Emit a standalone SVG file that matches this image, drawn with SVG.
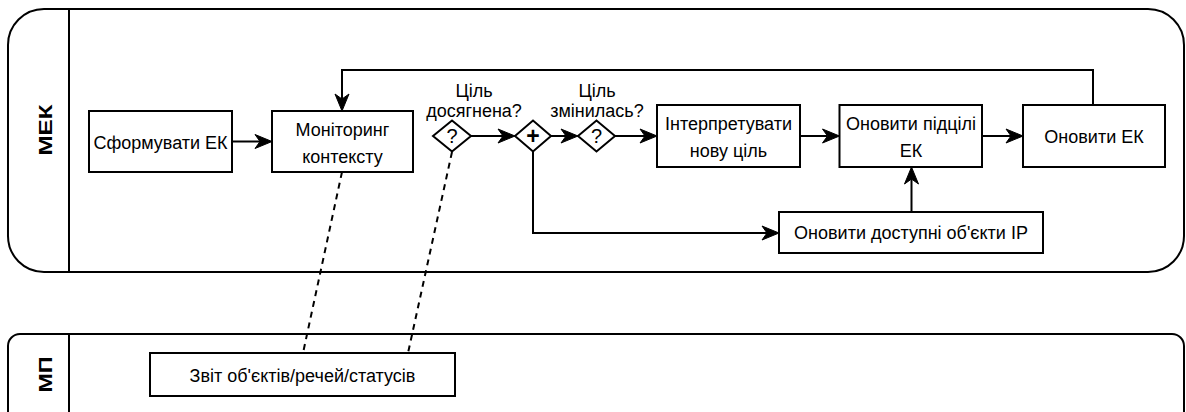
<svg xmlns="http://www.w3.org/2000/svg" width="1186" height="412" viewBox="0 0 1186 412">
  <style>
    .pool { fill: #ffffff; stroke: #000000; stroke-width: 2; }
    .lane { fill: none; stroke: #000000; stroke-width: 2; }
    .task { fill: #ffffff; stroke: #000000; stroke-width: 2; }
    .gw { fill: #ffffff; stroke: #000000; stroke-width: 2; stroke-linejoin: miter; }
    .flow { fill: none; stroke: #000000; stroke-width: 2; marker-end: url(#arrow); }
    .assoc { fill: none; stroke: #000000; stroke-width: 2; stroke-dasharray: 6 5; }
    text { font-family: "Liberation Sans", Arial, sans-serif; font-size: 18px; fill: #000000; text-anchor: middle; }
    .title { font-weight: bold; font-size: 19px; }
    .mark { font-size: 20px; }
    .plus { font-size: 23px; font-weight: bold; }
  </style>
  <defs>
    <marker id="arrow" viewBox="-6 -8 20 16" refX="0" refY="0" markerWidth="20" markerHeight="16" markerUnits="userSpaceOnUse" orient="auto">
      <path d="M12,0 L-5,-7 L0,0 L-5,7 Z" fill="#000000" stroke="#000000" stroke-width="1" stroke-linejoin="miter"/>
    </marker>
  </defs>

  <!-- pools with their lane headers -->
  <g id="pool-mek">
    <rect class="pool" x="8" y="9" width="1176" height="263" rx="36" ry="36"/>
    <line class="lane" x1="69" y1="9" x2="69" y2="272"/>
    <text class="title" transform="translate(52 130) rotate(-90)" textLength="51" lengthAdjust="spacingAndGlyphs">МЕК</text>
  </g>
  <g id="pool-mp">
    <rect class="pool" x="8" y="334" width="1176" height="100" rx="12" ry="12"/>
    <line class="lane" x1="69" y1="334" x2="69" y2="412"/>
    <text class="title" transform="translate(52 374.5) rotate(-90)" textLength="36" lengthAdjust="spacingAndGlyphs">МП</text>
  </g>

  <!-- connectors -->
  <g id="connectors">
    <path class="flow" d="M232,141.5 H260"/>
    <path class="flow" d="M471,136 H503"/>
    <path class="flow" d="M551,136 H566"/>
    <path class="flow" d="M615,136 H645"/>
    <path class="flow" d="M800,136 H827.5"/>
    <path class="flow" d="M982,136 H1011"/>
    <path class="flow" d="M533,152 V233 H767"/>
    <path class="flow" d="M911.5,212 V179"/>
    <path class="flow" d="M1093,105 V70 H342 V99"/>
    <path class="assoc" d="M342,172 L303,353"/>
    <path class="assoc" d="M452,152 L408,353"/>
  </g>

  <!-- tasks -->
  <g id="task-form">
    <rect class="task" x="89" y="111" width="143" height="61"/>
    <text x="160.5" y="148.5">Сформувати ЕК</text>
  </g>
  <g id="task-monitor">
    <rect class="task" x="272" y="111" width="141" height="61"/>
    <text x="342.5" y="136">Моніторинг</text>
    <text x="342.5" y="163">контексту</text>
  </g>
  <g id="gw-goal-reached">
    <polygon class="gw" points="433,136 452,120.5 471,136 452,151.5"/>
    <text class="mark" x="452" y="143">?</text>
    <text x="474" y="97">Ціль</text>
    <text x="474" y="117">досягнена?</text>
  </g>
  <g id="gw-parallel">
    <polygon class="gw" points="515,136 533,120.5 551,136 533,151.5"/>
    <text class="plus" x="533" y="144">+</text>
  </g>
  <g id="gw-goal-changed">
    <polygon class="gw" points="578,136 596.5,120.5 615,136 596.5,151.5"/>
    <text class="mark" x="596.5" y="143">?</text>
    <text x="597" y="97">Ціль</text>
    <text x="597" y="117">змінилась?</text>
  </g>
  <g id="task-interpret">
    <rect class="task" x="657" y="105" width="143" height="62"/>
    <text x="728.5" y="130">Інтерпретувати</text>
    <text x="728.5" y="157">нову ціль</text>
  </g>
  <g id="task-subgoals">
    <rect class="task" x="839.5" y="105" width="142.5" height="62"/>
    <text x="911" y="130">Оновити підцілі</text>
    <text x="911" y="157">ЕК</text>
  </g>
  <g id="task-update">
    <rect class="task" x="1023" y="105" width="142" height="62"/>
    <text x="1094" y="143">Оновити ЕК</text>
  </g>
  <g id="task-objects">
    <rect class="task" x="779" y="212" width="264" height="41"/>
    <text x="911" y="239">Оновити доступні об'єкти ІР</text>
  </g>
  <g id="task-report">
    <rect class="task" x="150" y="353" width="305" height="43"/>
    <text x="302.5" y="381.5">Звіт об'єктів/речей/статусів</text>
  </g>
</svg>
